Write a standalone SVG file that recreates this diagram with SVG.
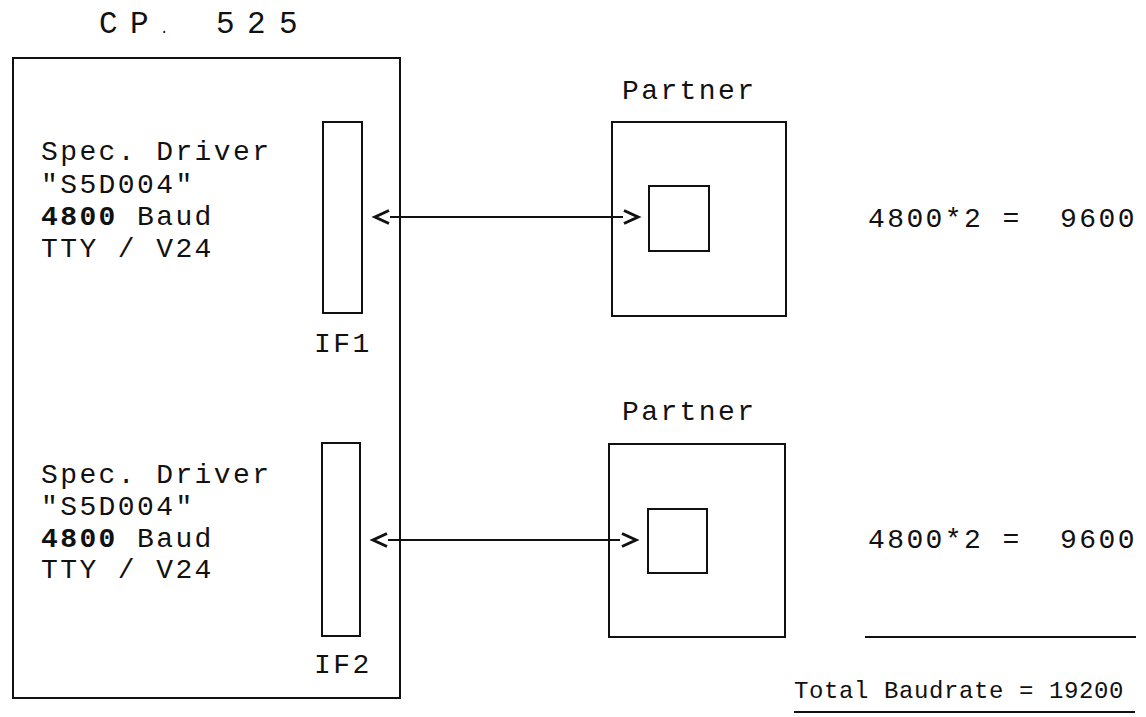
<svg xmlns="http://www.w3.org/2000/svg" width="1146" height="717" viewBox="0 0 1146 717">
  <style>
    .t { font-family: "Liberation Mono", "Courier New", monospace; fill: #111; white-space: pre; }
    .big { font-size: 28px; letter-spacing: 2.4px; }
    .small { font-size: 24px; letter-spacing: 0.6px; }
    .box { fill: none; stroke: #111; stroke-width: 2; }
    .wire { fill: none; stroke: #111; stroke-width: 2; }
    .chev { fill: none; stroke: #111; stroke-width: 3; stroke-linejoin: miter; }
  </style>
  <rect width="1146" height="717" fill="#fff"/>

  <!-- title of the communication processor -->
  <g id="title" class="t" font-size="31">
    <text x="99" y="33">C</text>
    <text x="130" y="33">P</text>
    <text x="160" y="33" font-size="14">.</text>
    <text x="216" y="33">5</text>
    <text x="247" y="33">2</text>
    <text x="279" y="33">5</text>
  </g>

  <!-- CP 525 module -->
  <g id="cp525">
    <rect class="box" x="13" y="58" width="387" height="640"/>
  </g>

  <!-- interface 1 with its driver description -->
  <g id="if1">
    <rect class="box" x="323" y="122" width="39" height="191"/>
    <text class="t big" x="314" y="352">IF1</text>
    <text class="t big" x="41" y="160">Spec. Driver</text>
    <text class="t big" x="41" y="193">"S5D004"</text>
    <text class="t big" x="41" y="225"><tspan font-weight="bold">4800</tspan> Baud</text>
    <text class="t big" x="41" y="257">TTY / V24</text>
  </g>

  <!-- interface 2 with its driver description -->
  <g id="if2">
    <rect class="box" x="322" y="443" width="38" height="193"/>
    <text class="t big" x="314" y="673">IF2</text>
    <text class="t big" x="41" y="483">Spec. Driver</text>
    <text class="t big" x="41" y="515">"S5D004"</text>
    <text class="t big" x="41" y="547"><tspan font-weight="bold">4800</tspan> Baud</text>
    <text class="t big" x="41" y="578">TTY / V24</text>
  </g>

  <!-- partner station 1 -->
  <g id="partner1">
    <text class="t big" x="622" y="99">Partner</text>
    <rect class="box" x="612" y="122" width="174" height="194"/>
    <rect class="box" x="649" y="186" width="60" height="65"/>
  </g>

  <!-- partner station 2 -->
  <g id="partner2">
    <text class="t big" x="622" y="420">Partner</text>
    <rect class="box" x="609" y="444" width="176" height="193"/>
    <rect class="box" x="648" y="509" width="59" height="64"/>
  </g>

  <!-- per-link baud rates and total -->
  <g id="rates">
    <text class="t big" x="868" y="227">4800*2 =  9600</text>
    <text class="t big" x="868" y="548">4800*2 =  9600</text>
    <line class="wire" x1="865" y1="637" x2="1136" y2="637"/>
    <text class="t small" x="794" y="698">Total Baudrate = 19200</text>
    <line class="wire" x1="794" y1="712" x2="1135" y2="712"/>
  </g>

  <!-- bidirectional links between interfaces and partners -->
  <g id="connectors">
    <line class="wire" x1="390" y1="217" x2="623" y2="217"/>
    <polyline class="chev" points="389,210.5 375,217 389,223.5"/>
    <polyline class="chev" points="624,210.5 638,217 624,223.5"/>

    <line class="wire" x1="388" y1="540" x2="620" y2="540"/>
    <polyline class="chev" points="387,533.5 373,540 387,546.5"/>
    <polyline class="chev" points="622,533.5 636,540 622,546.5"/>
  </g>
</svg>
